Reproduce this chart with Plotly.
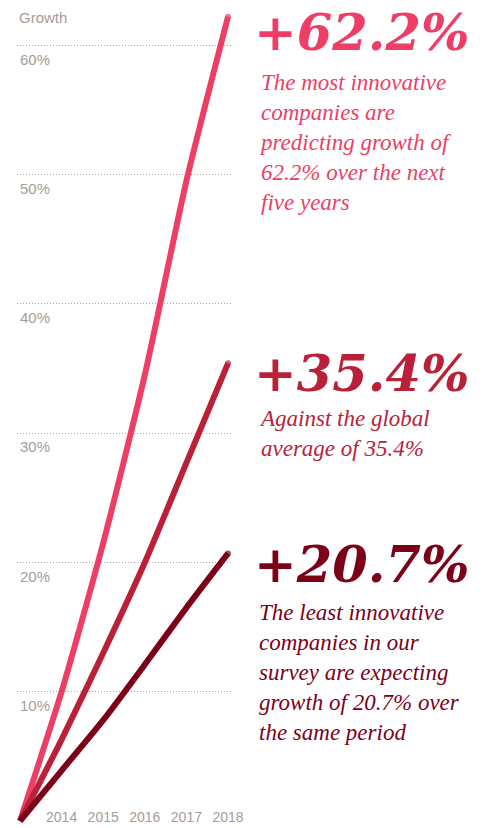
import plotly.graph_objects as go

# ---- data ----
years = [2013, 2014, 2015, 2016, 2017, 2018]
most_innovative = [0, 10.0, 21.5, 34.5, 49.5, 62.2]
global_average = [0, 6.3, 13.0, 20.0, 27.7, 35.4]
least_innovative = [0, 3.9, 7.8, 12.1, 16.5, 20.7]
year_ticks = [2014, 2015, 2016, 2017, 2018]
growth_ticks = [10, 20, 30, 40, 50, 60]
growth_labels = ["10%", "20%", "30%", "40%", "50%", "60%"]

big_labels = ["+62.2%", "+35.4%", "+20.7%"]
captions = [
    ["The most innovative", "companies are", "predicting growth of", "62.2% over the next", "five years"],
    ["Against the global", "average of 35.4%"],
    ["The least innovative", "companies in our", "survey are expecting", "growth of 20.7% over", "the same period"],
]

# ---- style ----
W, H = 487, 828
L, R = 17, 231
X0 = 20  # pixel of the first year
colors = ["#EE3E65", "#BA2138", "#7D0019"]
grey = "#A89C94"

fig = go.Figure()
for ys, c in zip([most_innovative, global_average, least_innovative], colors):
    fig.add_trace(go.Scatter(
        x=years, y=ys, mode="lines+markers",
        line=dict(color=c, width=6, shape="spline", smoothing=0.6),
        marker=dict(color=c, size=[0] * (len(ys) - 1) + [6], line=dict(width=0)),
        hoverinfo="skip", showlegend=False, cliponaxis=False,
    ))

px_per_year = 41.6
fig.update_xaxes(
    range=[years[0] - (X0 - L) / px_per_year, years[0] + (R - X0) / px_per_year],
    tickvals=year_ticks, ticktext=[str(y) for y in year_ticks],
    showgrid=False, zeroline=False, showline=False, ticks="",
    ticklabelposition="inside", ticklabeloverflow="allow", ticklabelstandoff=0,
    tickfont=dict(family="Liberation Sans", size=14, color=grey),
)
fig.update_yaxes(
    range=[-0.54, 63.5],
    tickvals=growth_ticks, ticktext=growth_labels,
    showgrid=True, gridcolor="#B0A59D", gridwidth=1, griddash="1px,2px",
    zeroline=False, showline=False, ticks="",
    ticklabelposition="inside", ticklabelshift=14, ticklabelstandoff=0,
    tickfont=dict(family="Liberation Sans", size=15, color=grey),
)

def px(x):
    return (x - L) / (R - L)

def py(y):
    return 1 - y / H

ann = [dict(text="Growth", x=px(17), y=py(18), xref="paper", yref="paper",
            xanchor="left", yanchor="middle", showarrow=False,
            font=dict(family="Liberation Sans", size=15, color=grey))]

big_y = [32, 373, 564]
cap_y = [68, 404, 598]
for lab, cap, c, by, cy in zip(big_labels, captions, colors, big_y, cap_y):
    ann.append(dict(text=f"<b><i>{lab}</i></b>", x=px(252), y=py(by), xref="paper", yref="paper",
                    xanchor="left", yanchor="middle", showarrow=False,
                    font=dict(family="DejaVu Serif", size=51, color=c)))
    ann.append(dict(text="<i>" + "<br>".join(cap) + "</i>", x=px(257), y=py(cy),
                    xref="paper", yref="paper", xanchor="left", yanchor="top",
                    align="left", showarrow=False,
                    font=dict(family="Liberation Serif", size=23, color=c)))

fig.update_layout(
    width=W, height=H,
    margin=dict(l=L, r=W - R, t=0, b=0, pad=0),
    paper_bgcolor="white", plot_bgcolor="white",
    annotations=ann,
)

fig.write_html("out.html", config={"displayModeBar": False},
               post_script="document.body.style.margin='0';")
